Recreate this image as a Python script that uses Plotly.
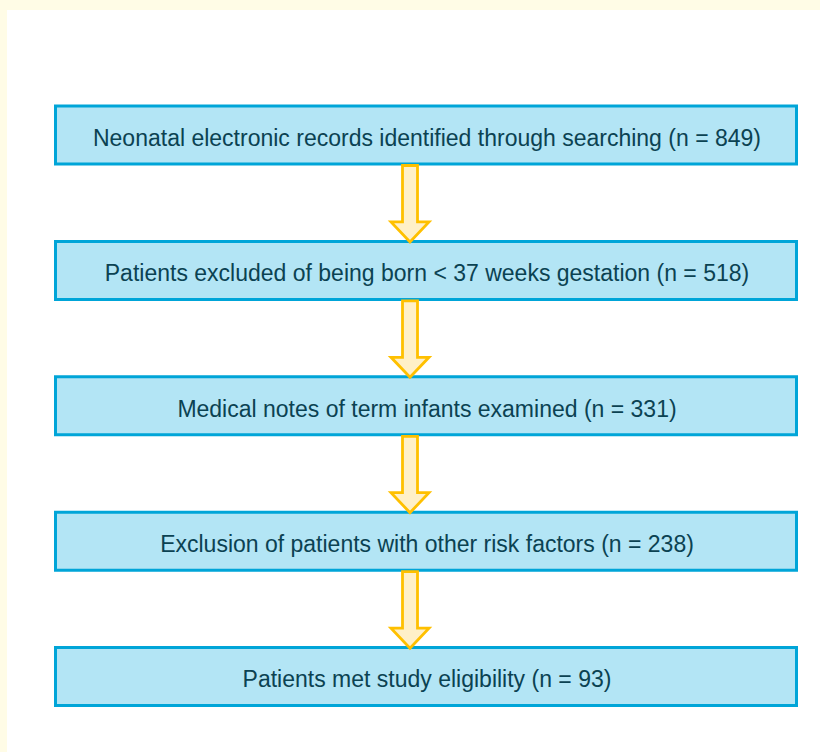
import plotly.graph_objects as go

labels = [
    "Neonatal electronic records identified through searching (n = 849)",
    "Patients excluded of being born < 37 weeks gestation (n = 518)",
    "Medical notes of term infants examined (n = 331)",
    "Exclusion of patients with other risk factors (n = 238)",
    "Patients met study eligibility (n = 93)",
]
step_index = [0, 1, 2, 3, 4]

W, H = 820, 752
box_x0, box_x1 = 55.5, 796.5
top0, spacing, box_h = 106, 135.4, 58

fig = go.Figure()
shapes = []
# white inner panel
shapes.append(dict(type="rect", xref="x", yref="y", x0=7, x1=W + 5, y0=10, y1=H + 5,
                   fillcolor="white", line=dict(width=0), layer="below"))

tops = [top0 + i * spacing for i in step_index]
for i, t in zip(step_index, tops):
    shapes.append(dict(type="rect", xref="x", yref="y", x0=box_x0, x1=box_x1, y0=t, y1=t + box_h,
                       fillcolor="#B3E5F5", line=dict(color="#00A5D8", width=3), layer="below"))

cx = 410
for i in step_index[:-1]:
    y0 = tops[i] + box_h + 1.5
    y_tip = tops[i + 1] + 0.5
    y_head = y_tip - 20
    sw, hw = 7.5, 19
    path = (f"M {cx - sw},{y0} L {cx + sw},{y0} L {cx + sw},{y_head} L {cx + hw},{y_head} "
            f"L {cx},{y_tip} L {cx - hw},{y_head} L {cx - sw},{y_head} Z")
    shapes.append(dict(type="path", xref="x", yref="y", path=path,
                       fillcolor="#FFF0C8", line=dict(color="#FFC000", width=2.8)))

fig.add_trace(go.Scatter(
    x=[(box_x0 + box_x1) / 2 + 1] * len(labels),
    y=[t + box_h / 2 + 5 for t in tops],
    text=labels, mode="text",
    textfont=dict(family="Liberation Sans, Arial, sans-serif", size=23, color="#0B4252"),
    hoverinfo="skip", showlegend=False,
))

fig.update_layout(
    width=W, height=H,
    margin=dict(l=0, r=0, t=0, b=0),
    paper_bgcolor="#FFFCE6", plot_bgcolor="#FFFCE6",
    shapes=shapes,
    xaxis=dict(range=[0, W], visible=False, fixedrange=True),
    yaxis=dict(range=[H, 0], visible=False, fixedrange=True),
)
fig.write_html("out.html", config={"displayModeBar": False},
               post_script="document.body.style.margin='0';document.body.style.background='#FFFCE6';")
